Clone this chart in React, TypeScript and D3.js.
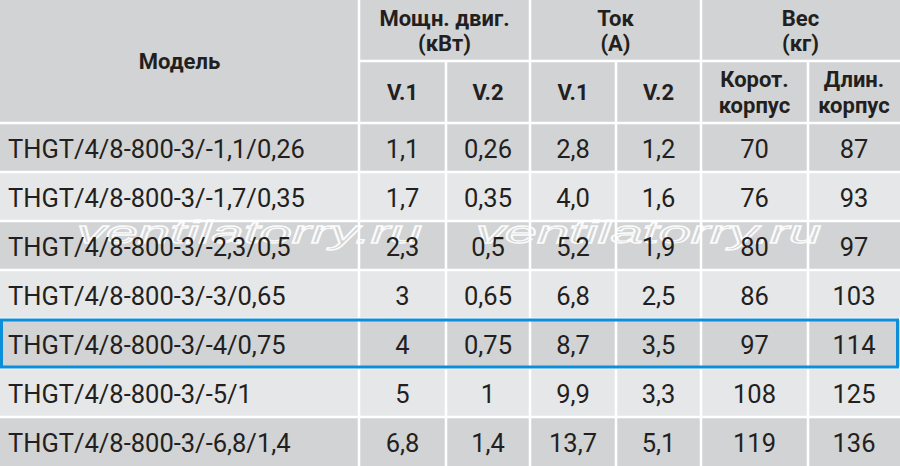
import React, { useEffect, useRef } from "react";
import * as d3 from "d3";

const models = [
  "THGT/4/8-800-3/-1,1/0,26",
  "THGT/4/8-800-3/-1,7/0,35",
  "THGT/4/8-800-3/-2,3/0,5",
  "THGT/4/8-800-3/-3/0,65",
  "THGT/4/8-800-3/-4/0,75",
  "THGT/4/8-800-3/-5/1",
  "THGT/4/8-800-3/-6,8/1,4",
];
const powerV1 = [1.1, 1.7, 2.3, 3, 4, 5, 6.8];
const powerV2 = [0.26, 0.35, 0.5, 0.65, 0.75, 1, 1.4];
const currentV1 = [2.8, 4.0, 5.2, 6.8, 8.7, 9.9, 13.7];
const currentV2 = [1.2, 1.6, 1.9, 2.5, 3.5, 3.3, 5.1];
const weightShort = [70, 76, 80, 86, 97, 108, 119];
const weightLong = [87, 93, 97, 103, 114, 125, 136];

const groupLabels = [
  ["Мощн. двиг.", "(кВт)"],
  ["Ток", "(А)"],
  ["Вес", "(кг)"],
];
const subLabels = [["V.1"], ["V.2"], ["V.1"], ["V.2"], ["Корот.", "корпус"], ["Длин.", "корпус"]];
const highlightRow = 4;

const ru = d3.formatLocale({ decimal: ",", thousands: " ", grouping: [3], currency: ["", ""] });

const App: React.FC = () => {
  const ref = useRef<SVGSVGElement>(null);

  useEffect(() => {
    const width = 900;
    const height = 466;
    const headerMid = 61;
    const headerBottom = 123;
    // column edges
    const edges = [0, 359, 446, 530, 616, 701, 808, 900];
    const font = "Roboto, 'DejaVu Sans', sans-serif";
    const ink = "#231f20";
    const dark = "#d1d3d4";
    const light = "#e6e7e8";

    const svg = d3.select(ref.current);
    svg.selectAll("*").remove();

    const y = d3
      .scaleBand<number>()
      .domain(d3.range(models.length))
      .range([headerBottom, height])
      .padding(0);

    // backgrounds
    svg.append("rect").attr("width", width).attr("height", headerBottom).attr("fill", dark);
    svg
      .selectAll("rect.row")
      .data(models)
      .join("rect")
      .attr("class", "row")
      .attr("x", 0)
      .attr("y", (_, i) => y(i)!)
      .attr("width", width)
      .attr("height", y.bandwidth())
      .attr("fill", (_, i) => (i % 2 === 0 ? dark : light));

    // watermark
    const wm = svg.append("g");
    [77, 476].forEach((x0) => {
      wm.append("text")
        .attr("x", x0)
        .attr("y", 243)
        .attr("textLength", 345)
        .attr("lengthAdjust", "spacingAndGlyphs")
        .style("font-family", "'Liberation Sans', Arial, sans-serif")
        .style("font-style", "italic")
        .style("font-size", "32px")
        .attr("fill", "none")
        .attr("stroke", "#fbfbfb")
        .attr("stroke-width", 1.3)
        .text("ventilatorry.ru");
    });

    // grid lines
    const lines = svg.append("g").attr("stroke", "#fff").attr("stroke-width", 2.5);
    lines.append("line").attr("x1", edges[1]).attr("x2", width).attr("y1", headerMid).attr("y2", headerMid);
    d3.range(models.length).forEach((i) => {
      lines.append("line").attr("x1", 0).attr("x2", width).attr("y1", y(i)!).attr("y2", y(i)!);
    });
    edges.slice(1, -1).forEach((x, i) => {
      const full = i === 0 || i === 2 || i === 4;
      lines.append("line").attr("x1", x).attr("x2", x).attr("y1", full ? 0 : headerMid).attr("y2", height);
    });

    const txt = (g: d3.Selection<any, any, any, any>, x: number, yy: number, s: string, bold: boolean, anchor = "middle") =>
      g
        .append("text")
        .attr("x", x)
        .attr("y", yy)
        .attr("text-anchor", anchor)
        .attr("dominant-baseline", "central")
        .attr("fill", ink)
        .style("font-family", font)
        .style("font-size", bold ? "22px" : "25.5px")
        .style("font-weight", bold ? 700 : 400)
        .text(s);

    // header
    const head = svg.append("g");
    txt(head, (edges[0] + edges[1]) / 2, headerMid, "Модель", true);
    const groupEdges = [
      [edges[1], edges[3]],
      [edges[3], edges[5]],
      [edges[5], edges[7]],
    ];
    groupLabels.forEach((lab, i) => {
      const cx = (groupEdges[i][0] + groupEdges[i][1]) / 2;
      txt(head, cx, 18, lab[0], true);
      txt(head, cx, 43, lab[1], true);
    });
    subLabels.forEach((lab, i) => {
      const cx = (edges[i + 1] + edges[i + 2]) / 2;
      if (lab.length === 1) txt(head, cx, 92, lab[0], true);
      else {
        txt(head, cx, 79, lab[0], true);
        txt(head, cx, 105, lab[1], true);
      }
    });

    // body
    const fmtG = ru.format("~g");
    const fmt1 = ru.format(".1f");
    const fmtD = ru.format("d");
    const columns: string[][] = [
      powerV1.map(fmtG),
      powerV2.map(fmtG),
      currentV1.map(fmt1),
      currentV2.map(fmt1),
      weightShort.map(fmtD),
      weightLong.map(fmtD),
    ];
    const body = svg.append("g");
    models.forEach((m, r) => {
      const cy = y(r)! + y.bandwidth() / 2 + 1;
      txt(body, 8, cy, m, false, "start");
      columns.forEach((col, c) => {
        txt(body, (edges[c + 1] + edges[c + 2]) / 2, cy, col[r], false);
      });
    });

    // highlighted row
    svg
      .append("rect")
      .attr("x", 1.5)
      .attr("y", y(highlightRow)! + 1)
      .attr("width", width - 4)
      .attr("height", y.bandwidth() - 2)
      .attr("fill", "none")
      .attr("stroke", "#0b8fdb")
      .attr("stroke-width", 3);
  }, []);

  return (
    <svg
      ref={ref}
      width={900}
      height={466}
      style={{ position: "absolute", left: 0, top: 0, display: "block" }}
    />
  );
};

export default App;
